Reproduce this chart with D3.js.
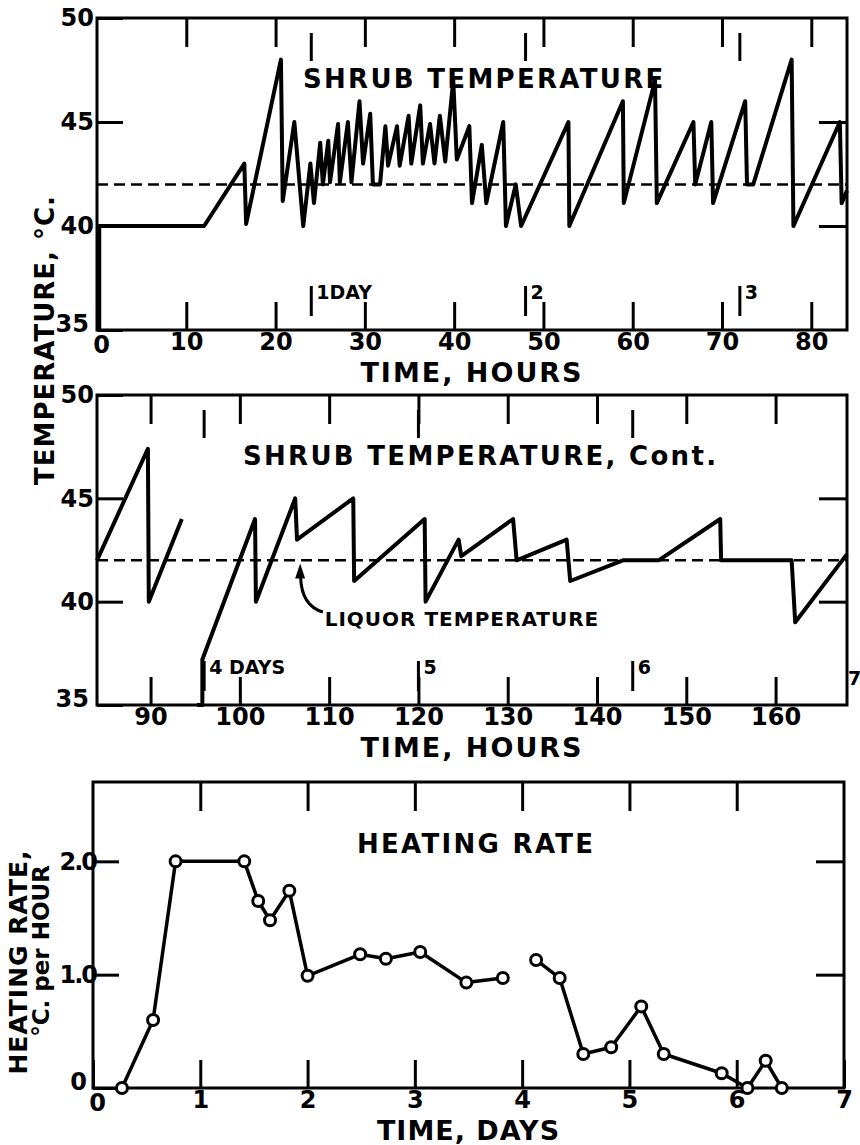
<!DOCTYPE html>
<html>
<head>
<meta charset="utf-8">
<script src="https://cdnjs.cloudflare.com/ajax/libs/d3/7.8.5/d3.min.js"></script>
<style>
body { margin: 0; background: #fff; }
text { font-family: "DejaVu Sans", sans-serif; font-weight: bold; fill: #000; }
.axis line { stroke: #000; stroke-width: 3; }
.axis text { font-size: 24px; font-family: "DejaVu Sans", sans-serif; font-weight: bold; }
.axis .domain { display: none; }
</style>
</head>
<body>
<div id="chart"></div>
<script>
var w = 860;
var h = 1145;

// shrub temperature (deg C) vs time (hours), first 3.5 days
var shrubTemp1 = [
    [0.25, 35], [0.25, 40], [12, 40], [16.5, 43], [16.7, 40.1], [20.6, 48], [20.8, 41.2], [22.1, 45], [23.1, 40],
    [23.9, 43], [24.3, 41.1], [25.0, 44], [25.3, 42], [25.9, 44.1], [26.1, 42.1], [27.0, 44.9], [27.2, 42.1],
    [28.1, 45], [28.5, 42.1], [29.4, 46], [29.8, 43], [30.6, 45.4], [30.9, 42], [31.7, 42],
    [32.3, 44.8], [32.6, 42.9], [33.6, 44.8], [33.9, 42.9], [34.9, 45.3], [35.2, 43], [36.2, 45.8], [36.5, 43],
    [37.3, 44.9], [37.8, 43], [38.4, 45.3], [39.0, 43.1], [39.9, 47], [40.3, 43.2],
    [41.7, 44.8], [42.0, 41.1], [43.1, 43.9], [43.6, 41.1], [45.5, 45], [45.8, 40], [46.9, 42], [47.5, 40],
    [52.8, 45], [52.9, 40], [58.9, 46], [59.0, 41.1], [62.5, 47], [62.7, 41.1], [66.8, 45], [67.0, 42],
    [68.8, 45], [69.0, 41.1], [72.6, 46], [72.8, 42], [73.5, 42], [77.8, 48], [78.0, 40], [83.2, 45],
    [83.4, 41.1], [84, 41.7]
];

// continued, 3.5 to 7 days (two pieces, gap near 94 h)
var shrubTemp2a = [[84, 42], [89.7, 47.4], [89.8, 40], [93.5, 44]];
var shrubTemp2b = [
    [95.2, 35], [95.8, 35], [95.8, 37.2], [101.7, 44], [101.8, 40], [106.2, 45], [106.4, 43],
    [112.7, 45], [112.8, 41], [120.7, 44], [120.8, 40], [124.5, 43], [124.8, 42.2], [130.6, 44],
    [131, 42], [136.6, 43], [137, 41], [142.9, 42], [146.9, 42], [153.8, 44], [153.9, 42],
    [161.8, 42], [162.2, 39], [168, 42.3]
];

var liquorTemp = 42;

// heating rate (deg C per hour) vs time (days)
var heatRate1 = [
    [0.27, 0], [0.56, 0.60], [0.77, 2.0], [1.41, 2.0], [1.54, 1.65], [1.65, 1.48], [1.83, 1.74],
    [2.0, 0.99], [2.49, 1.18], [2.73, 1.14], [3.05, 1.20], [3.48, 0.93], [3.82, 0.97]
];
var heatRate2 = [
    [4.13, 1.13], [4.35, 0.97], [4.57, 0.30], [4.83, 0.36], [5.11, 0.72], [5.32, 0.30],
    [5.86, 0.13], [6.1, 0], [6.27, 0.24], [6.42, 0]
];

var hourLabels1 = [0, 10, 20, 30, 40, 50, 60, 70, 80];
var hourLabels2 = [90, 100, 110, 120, 130, 140, 150, 160];
var dayLabels = [0, 1, 2, 3, 4, 5, 6, 7];
var tempLabels = [35, 40, 45, 50];
var rateLabels = [0, 1, 2];
var dayMarks1 = [{ hr: 24, label: "1DAY" }, { hr: 48, label: "2" }, { hr: 72, label: "3" }];
var dayMarks2 = [{ hr: 96, label: "4 DAYS" }, { hr: 120, label: "5" }, { hr: 144, label: "6" }];

var svg = d3.select("#chart")
    .append("svg")
    .attr("width", w)
    .attr("height", h);

function frame(g, x, y, opt) {
    var inner = function (d) { return d > opt.xDomain[0] && d < opt.xDomain[1]; };
    var innerY = function (d) { return d > opt.yDomain[0] && d < opt.yDomain[1]; };

    var bottom = g.append("g").attr("class", "axis")
        .attr("transform", "translate(0," + opt.bottom + ")")
        .call(d3.axisBottom(x).tickValues(opt.xLabels).tickSize(-28).tickPadding(3).tickFormat(opt.xFormat || d3.format("d")));
    // first x label sits a little right of the corner
    bottom.selectAll("text").filter(function (d) { return d === opt.xDomain[0]; })
        .attr("x", 4).attr("y", 6);
    g.append("g").attr("class", "axis")
        .attr("transform", "translate(0," + opt.top + ")")
        .call(d3.axisTop(x).tickValues(opt.xLabels.filter(inner)).tickSize(-29).tickFormat(""));
    var left = g.append("g").attr("class", "axis")
        .attr("transform", "translate(" + opt.left + ",0)")
        .call(d3.axisLeft(y).tickValues(opt.yLabels).tickSize(-26).tickPadding(opt.yPad).tickFormat(opt.yFormat || d3.format("d")));
    if (opt.ySpacing) left.selectAll("text").attr("letter-spacing", opt.ySpacing);
    // lowest y label is nudged up and left, off the corner
    left.selectAll("text").filter(function (d) { return d === opt.yDomain[0]; })
        .attr("x", -8).attr("y", -6);
    g.append("g").attr("class", "axis")
        .attr("transform", "translate(" + opt.right + ",0)")
        .call(d3.axisRight(y).tickValues(opt.yLabels.filter(innerY)).tickSize(-28).tickFormat(""));

    g.append("rect")
        .attr("x", opt.left)
        .attr("y", opt.top)
        .attr("width", opt.right - opt.left)
        .attr("height", opt.bottom - opt.top)
        .attr("fill", "none")
        .attr("stroke", "#000")
        .attr("stroke-width", 3);
}

function tempPanel(opt) {
    var g = svg.append("g");
    var x = d3.scaleLinear().domain(opt.xDomain).range([opt.left, opt.right]);
    var y = d3.scaleLinear().domain(opt.yDomain).range([opt.bottom, opt.top]);

    frame(g, x, y, opt);

    // liquor temperature, dashed
    g.append("line")
        .attr("x1", x(opt.xDomain[0])).attr("x2", x(opt.xDomain[1]))
        .attr("y1", y(liquorTemp)).attr("y2", y(liquorTemp))
        .attr("stroke", "#000")
        .attr("stroke-width", 2.5)
        .attr("stroke-dasharray", "11,6");

    var line = d3.line()
        .x(function (d) { return x(d[0]); })
        .y(function (d) { return y(d[1]); });

    g.selectAll("path.series")
        .data(opt.series)
        .enter()
        .append("path")
        .attr("class", "series")
        .attr("d", line)
        .attr("fill", "none")
        .attr("stroke", "#000")
        .attr("stroke-width", 4)
        .attr("stroke-linejoin", "round");

    // day markers
    g.selectAll("line.daytop")
        .data(opt.marks)
        .enter()
        .append("line")
        .attr("x1", function (d) { return x(d.hr); })
        .attr("x2", function (d) { return x(d.hr); })
        .attr("y1", opt.top + 15)
        .attr("y2", opt.top + 43)
        .attr("stroke", "#000")
        .attr("stroke-width", 3);
    g.selectAll("line.daybot")
        .data(opt.marks)
        .enter()
        .append("line")
        .attr("x1", function (d) { return x(d.hr); })
        .attr("x2", function (d) { return x(d.hr); })
        .attr("y1", opt.bottom - 44)
        .attr("y2", opt.bottom - 14)
        .attr("stroke", "#000")
        .attr("stroke-width", 3);
    g.selectAll("text.day")
        .data(opt.marks)
        .enter()
        .append("text")
        .attr("class", "day")
        .attr("x", function (d) { return x(d.hr) + 5; })
        .attr("y", opt.bottom - 31)
        .attr("font-size", 19)
        .text(function (d) { return d.label; });

    g.append("text")
        .attr("x", opt.titleX)
        .attr("y", opt.top + opt.titleDy)
        .attr("font-size", 26)
        .attr("letter-spacing", 2.3)
        .text(opt.title);

    g.append("text")
        .attr("x", (opt.left + opt.right) / 2)
        .attr("y", opt.bottom + 52)
        .attr("text-anchor", "middle")
        .attr("font-size", 27)
        .attr("letter-spacing", 2)
        .text("TIME, HOURS");

    return { g: g, x: x, y: y };
}

var p1 = tempPanel({
    xDomain: [0, 84], yDomain: [35, 50],
    left: 97, right: 847, top: 18, bottom: 330,
    xLabels: hourLabels1, yLabels: tempLabels, yPad: 3,
    series: [shrubTemp1], marks: dayMarks1,
    title: "SHRUB TEMPERATURE", titleX: 303, titleDy: 70
});

var p2 = tempPanel({
    xDomain: [84, 168], yDomain: [35, 50],
    left: 97, right: 847, top: 395, bottom: 705,
    xLabels: hourLabels2, yLabels: tempLabels, yPad: 3,
    series: [shrubTemp2a, shrubTemp2b], marks: dayMarks2,
    title: "SHRUB TEMPERATURE, Cont.", titleX: 243, titleDy: 70
});

// the "7" day mark sits at the right edge
p2.g.append("text")
    .attr("x", p2.x(168) + 1)
    .attr("y", 685)
    .attr("font-size", 19)
    .text("7");

// liquor temperature callout
p2.g.append("path")
    .attr("d", "M" + p2.x(109.3) + "," + p2.y(39.5) +
        " Q" + p2.x(106.9) + "," + p2.y(39.8) + " " + p2.x(106.8) + "," + p2.y(41.2))
    .attr("fill", "none")
    .attr("stroke", "#000")
    .attr("stroke-width", 3);
p2.g.append("path")
    .attr("d", "M" + p2.x(106.75) + "," + (p2.y(41.8) - 1) +
        " L" + (p2.x(106.75) - 5) + "," + (p2.y(41.8) + 14) +
        " L" + (p2.x(106.75) + 5) + "," + (p2.y(41.8) + 14) + "Z")
    .attr("fill", "#000");
p2.g.append("text")
    .attr("x", p2.x(109.5))
    .attr("y", p2.y(38.8))
    .attr("font-size", 20)
    .attr("letter-spacing", 1)
    .text("LIQUOR TEMPERATURE");

// shared y label
svg.append("text")
    .attr("transform", "translate(54,340) rotate(-90)")
    .attr("text-anchor", "middle")
    .attr("font-size", 26)
    .attr("letter-spacing", 1)
    .text("TEMPERATURE, °C.");

// heating rate panel
function ratePanel(opt) {
    var g = svg.append("g");
    var x = d3.scaleLinear().domain(opt.xDomain).range([opt.left, opt.right]);
    var y = d3.scaleLinear().domain(opt.yDomain).range([opt.bottom, opt.top]);

    frame(g, x, y, opt);

    var line = d3.line()
        .x(function (d) { return x(d[0]); })
        .y(function (d) { return y(d[1]); });

    g.selectAll("path.series")
        .data(opt.series)
        .enter()
        .append("path")
        .attr("class", "series")
        .attr("d", line)
        .attr("fill", "none")
        .attr("stroke", "#000")
        .attr("stroke-width", 3.5)
        .attr("stroke-linejoin", "round");

    g.selectAll("circle")
        .data(d3.merge(opt.series))
        .enter()
        .append("circle")
        .attr("cx", function (d) { return x(d[0]); })
        .attr("cy", function (d) { return y(d[1]); })
        .attr("r", 5.5)
        .attr("fill", "#fff")
        .attr("stroke", "#000")
        .attr("stroke-width", 3);

    g.append("text")
        .attr("x", opt.titleX)
        .attr("y", opt.top + opt.titleDy)
        .attr("font-size", 26)
        .attr("letter-spacing", 2.3)
        .text(opt.title);

    g.append("text")
        .attr("x", (opt.left + opt.right) / 2)
        .attr("y", opt.bottom + 52)
        .attr("text-anchor", "middle")
        .attr("font-size", 27)
        .attr("letter-spacing", 1)
        .text("TIME, DAYS");

    g.append("text")
        .attr("transform", "translate(27,962) rotate(-90)")
        .attr("text-anchor", "middle")
        .attr("font-size", 25)
        .attr("letter-spacing", 1)
        .text("HEATING RATE,");
    g.append("text")
        .attr("transform", "translate(49,951) rotate(-90)")
        .attr("text-anchor", "middle")
        .attr("font-size", 23)
        .text("°C. per HOUR");

    return { g: g, x: x, y: y };
}

ratePanel({
    xDomain: [0, 7], yDomain: [0, 2.7],
    left: 93, right: 844, top: 782, bottom: 1088,
    xLabels: dayLabels, yLabels: rateLabels, yPad: -3, ySpacing: -2,
    yFormat: function (d) { return d === 0 ? "0" : d3.format(".1f")(d); },
    series: [heatRate1, heatRate2],
    title: "HEATING RATE", titleX: 357, titleDy: 71
});
</script>
</body>
</html>
